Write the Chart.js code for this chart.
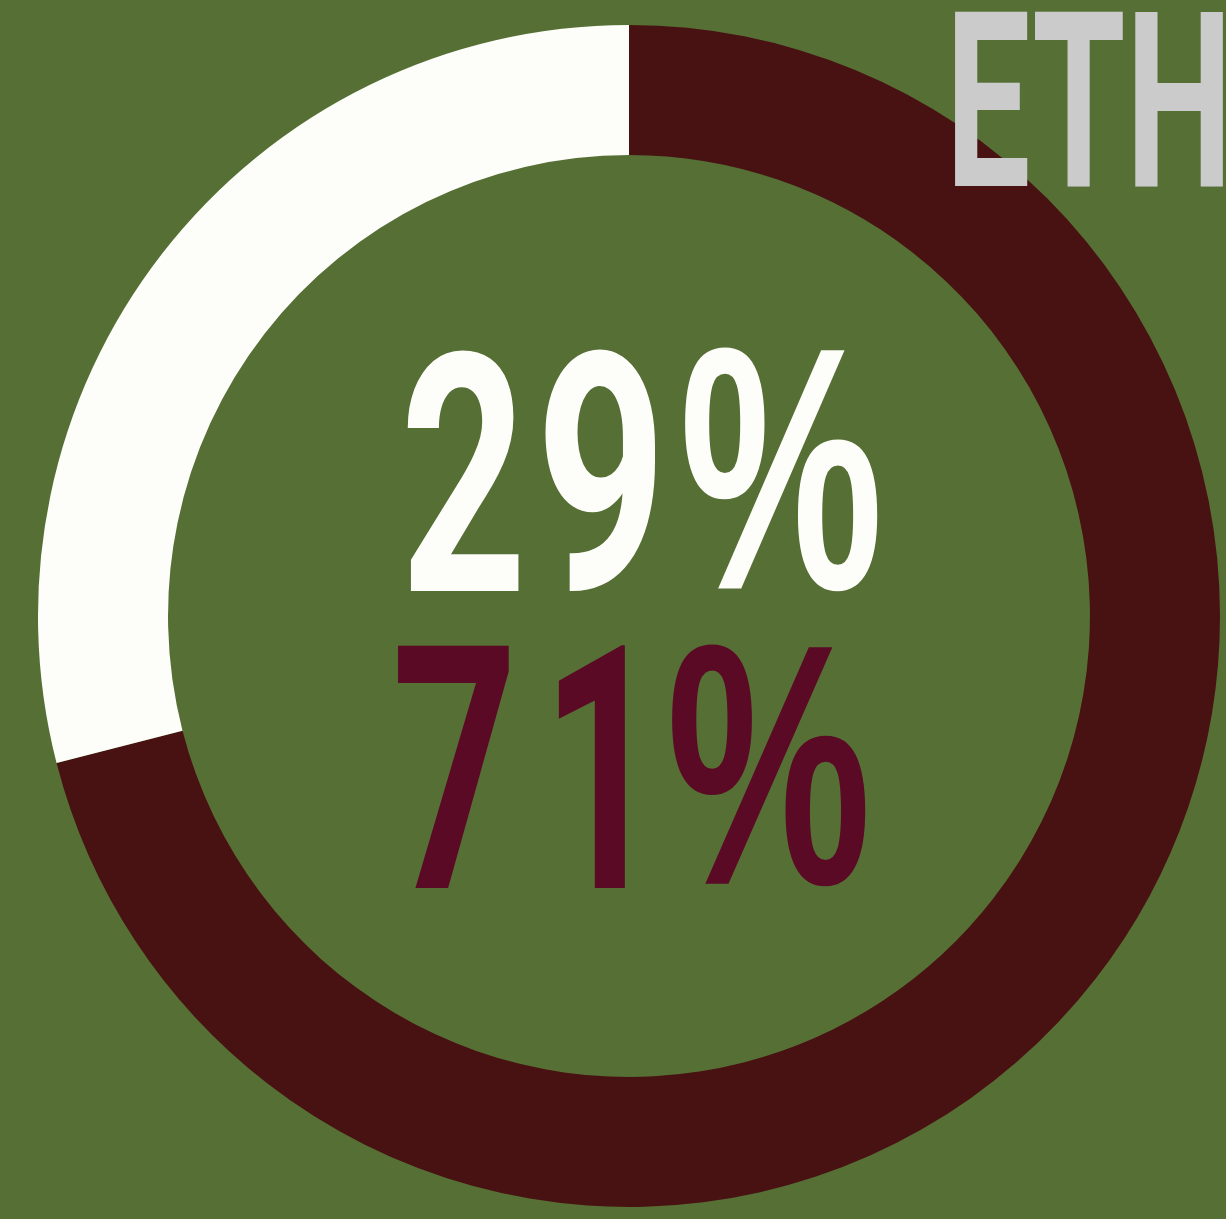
<!DOCTYPE html>
<html>
<head>
<meta charset="utf-8">
<script src="https://cdn.jsdelivr.net/npm/chart.js@4/dist/chart.umd.min.js"></script>
<style>
  html, body { margin: 0; padding: 0; background: #566f35; overflow: hidden; }
  #wrap { width: 1226px; height: 1219px; position: relative; }
</style>
</head>
<body>
<div id="wrap"><canvas id="donut"></canvas></div>
<script>
// data
const title = "ETH";
const sliceLabels = ["Maroon", "White"];
const sliceValues = [71, 29];
const sliceColors = ["#481212", "#fdfdf9"];
const textColors = ["#5b0a26", "#fdfdf9"];

// stretch a piece of text so its ink fills a box
function fitText(ctx, str, color, box, font) {
    ctx.save();
    ctx.font = font;
    ctx.textBaseline = "alphabetic";
    ctx.textAlign = "left";
    const m = ctx.measureText(str);
    const inkW = m.actualBoundingBoxLeft + m.actualBoundingBoxRight;
    const inkH = m.actualBoundingBoxAscent + m.actualBoundingBoxDescent;
    ctx.translate(box[0], box[1]);
    ctx.scale((box[2] - box[0]) / inkW, (box[3] - box[1]) / inkH);
    ctx.fillStyle = color;
    ctx.fillText(str, m.actualBoundingBoxLeft, m.actualBoundingBoxAscent);
    ctx.restore();
}

const digitFont = "bold 300px Roboto, 'Liberation Sans', sans-serif";
const pctFont = "bold 300px 'Liberation Sans', Arial, sans-serif";

// one box per glyph: digits then the % sign
function drawPercent(ctx, value, color, boxes) {
    const s = String(value);
    for (let i = 0; i < s.length; i++) {
        fitText(ctx, s[i], color, boxes[i], digitFont);
    }
    fitText(ctx, "%", color, boxes[s.length], pctFont);
}

const labelPlugin = {
    id: "labels",
    afterDraw(chart) {
        const ctx = chart.ctx;
        const vals = chart.data.datasets[0].data;
        drawPercent(ctx, vals[1], textColors[1],
            [[407, 346, 521, 591], [543, 345, 657, 594], [683, 345, 880, 594]]);
        drawPercent(ctx, vals[0], textColors[0],
            [[395, 643, 512, 888], [558, 643, 628, 888], [670, 642, 868, 889]]);
        fitText(ctx, title, "#cbcbcb", [955, 10, 1225, 186], digitFont);
    }
};

new Chart("donut", {
    type: "doughnut",
    data: {
        labels: sliceLabels,
        datasets: [{
            data: sliceValues,
            backgroundColor: sliceColors,
            borderWidth: 0
        }]
    },
    options: {
        responsive: true,
        maintainAspectRatio: false,
        animation: false,
        cutout: "78%",
        layout: { padding: { left: 38, right: 6, top: 23, bottom: 10 } },
        plugins: {
            legend: { display: false },
            tooltip: { enabled: false }
        }
    },
    plugins: [labelPlugin]
});
</script>
</body>
</html>
